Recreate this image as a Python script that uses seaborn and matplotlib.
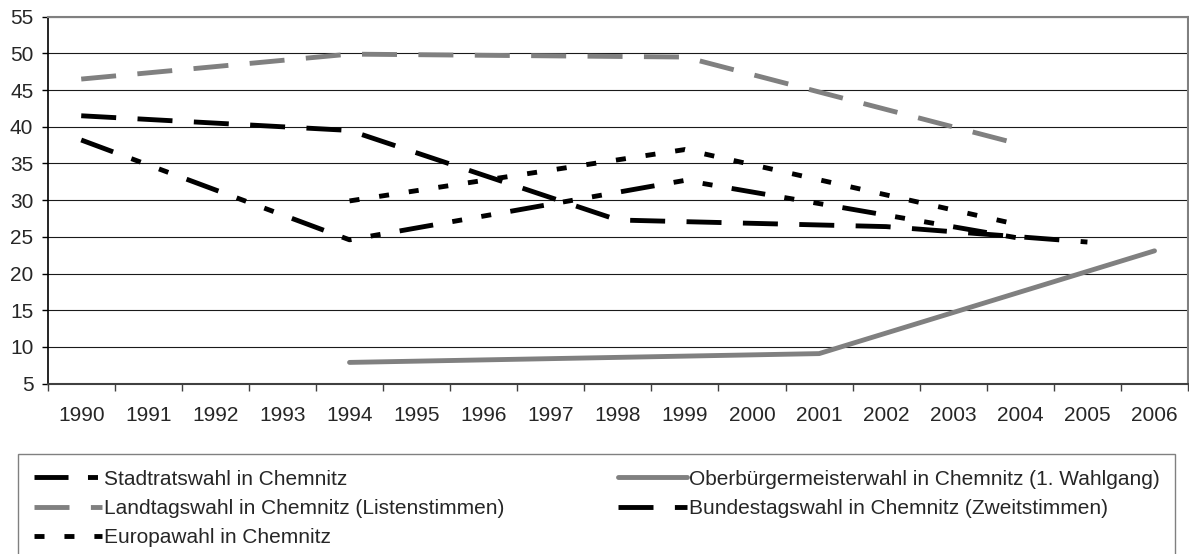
import numpy as np
import pandas as pd
import matplotlib.pyplot as plt
import seaborn as sns
from matplotlib.ticker import MultipleLocator

# --- Daten ---
jahre = list(range(1990, 2007))

stadtrat_jahre = [1990, 1994, 1999, 2004]
stadtrat = [38.2, 24.6, 32.7, 24.8]

landtag_jahre = [1990, 1994, 1999, 2004]
landtag = [46.5, 49.9, 49.5, 37.6]

europa_jahre = [1994, 1999, 2004]
europa = [29.9, 36.9, 26.6]

ob_jahre = [1994, 2001, 2006]
ob = [7.9, 9.1, 23.1]

bundestag_jahre = [1990, 1994, 1998, 2002, 2005]
bundestag = [41.5, 39.5, 27.3, 26.4, 24.3]

# --- Style ---
sns.set_style("white")
plt.rcParams['font.family'] = ['Liberation Sans', 'DejaVu Sans']
plt.rcParams['font.size'] = 15

fig, ax = plt.subplots(figsize=(11.89, 5.54), dpi=100)
fig.subplots_adjust(left=0.0401, right=0.9992, top=0.9699, bottom=0.3074)

grau = '#808080'
lang = (0, (7.2, 4.4))
serien = {
    "Stadtratswahl in Chemnitz": (stadtrat_jahre, stadtrat, 'black', (0, (7.0, 4.0, 2.06, 4.0, 2.06, 4.0))),
    "Landtagswahl in Chemnitz (Listenstimmen)": (landtag_jahre, landtag, grau, lang),
    "Europawahl in Chemnitz": (europa_jahre, europa, 'black', (0, (2.06, 4.1))),
    "Oberbürgermeisterwahl in Chemnitz (1. Wahlgang)": (ob_jahre, ob, grau, '-'),
    "Bundestagswahl in Chemnitz (Zweitstimmen)": (bundestag_jahre, bundestag, 'black', lang),
}

handles = []
for name, (x, y, farbe, stil) in serien.items():
    df = pd.DataFrame({"Jahr": x, "Prozent": y})
    sns.lineplot(data=df, x="Jahr", y="Prozent", ax=ax, color=farbe,
                 linestyle=stil, linewidth=3.5, label=name, legend=False)
    handles.append(ax.lines[-1])

# --- Achsen ---
ax.set_xlim(1989.5, 2006.5)
ax.set_ylim(5, 55)
ax.yaxis.set_major_locator(MultipleLocator(5))
ax.set_xticks(jahre)
ax.set_xticks(np.arange(1989.5, 2007, 1), minor=True)
ax.set_xlabel('')
ax.set_ylabel('')

ax.tick_params(axis='x', which='major', length=0, pad=16, labelsize=15)
ax.tick_params(axis='x', which='minor', length=5, width=1, color='#404040', direction='out', bottom=True)
ax.tick_params(axis='y', which='major', length=4.3, width=1, color='black', pad=6, labelsize=15, left=True)

ax.yaxis.grid(True, color='#1a1a1a', linewidth=0.8)
ax.xaxis.grid(False)
ax.set_axisbelow(True)

ax.spines['left'].set_color('black')
ax.spines['left'].set_linewidth(1.2)
ax.spines['bottom'].set_color('#404040')
ax.spines['bottom'].set_linewidth(1.5)
for s in ['top', 'right']:
    ax.spines[s].set_color(grau)
    ax.spines[s].set_linewidth(1.5)

# --- Legende ---
leg = ax.legend(handles=handles, labels=list(serien.keys()), ncol=2,
                loc='upper left', bbox_to_anchor=(0.01514, 0.0, 0.9731, 0.1805),
                bbox_transform=fig.transFigure, mode='expand',
                frameon=True, fancybox=False, edgecolor=grau, framealpha=1,
                borderpad=0.75, labelspacing=0.5, handlelength=3.3,
                handletextpad=0.1, borderaxespad=0, fontsize=15)
leg.get_frame().set_linewidth(1.0)

fig.savefig('out.png', dpi=100)
